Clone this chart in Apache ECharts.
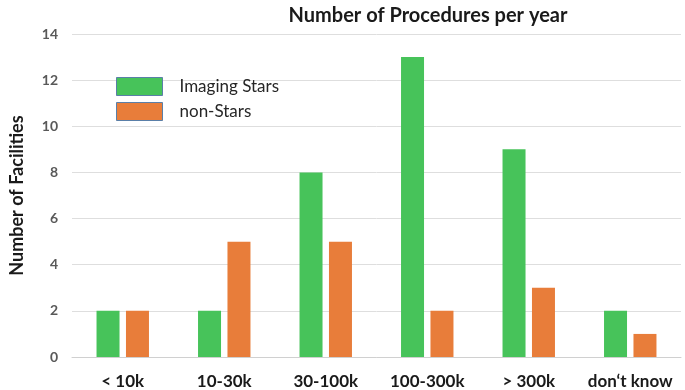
<!DOCTYPE html>
<html>
<head>
<meta charset="utf-8">
<script src="https://cdn.jsdelivr.net/npm/echarts@6/dist/echarts.min.js"></script>
<style>
  html, body { margin: 0; padding: 0; background: #fff; }
  #chart { width: 685px; height: 390px; }
</style>
</head>
<body>
<div id="chart"></div>
<script>
// categorie e valori
var categorie = ['< 10k', '10-30k', '30-100k', '100-300k', '> 300k', 'don\u2018t know'];
var imagingStars = [2, 2, 8, 13, 9, 2];
var nonStars = [2, 5, 5, 2, 3, 1];
var tickY = [0, 2, 4, 6, 8, 10, 12, 14];

var font = 'Lato, "Open Sans", sans-serif';

var grafico = echarts.init(document.getElementById('chart'));
var option = {
  animation: false,
  title: {
    text: 'Number of Procedures per year',
    left: 423,
    textAlign: 'center',
    top: 1,
    textStyle: { fontFamily: font, fontWeight: 'bold', fontSize: 20, color: '#1a1a1a' }
  },
  legend: {
    orient: 'vertical',
    left: 116,
    top: 77,
    padding: 0,
    icon: 'rect',
    itemWidth: 46,
    itemHeight: 18,
    itemGap: 6,
    itemStyle: { borderColor: '#5a7fa8', borderWidth: 1 },
    textStyle: { fontFamily: font, fontSize: 17, color: '#262626', padding: [0, 0, 0, 12] },
    data: ['Imaging Stars', 'non-Stars']
  },
  grid: { left: 66, right: 4, top: 34, bottom: 33 },
  xAxis: {
    type: 'category',
    data: categorie,
    axisTick: { show: false },
    axisLine: { lineStyle: { color: '#d0d0d0' } },
    axisLabel: { interval: 0, fontFamily: font, fontWeight: 'bold', fontSize: 17, color: '#1a1a1a', margin: 16 }
  },
  yAxis: {
    type: 'value',
    min: tickY[0],
    max: tickY[tickY.length - 1],
    interval: 2,
    name: 'Number of Facilities',
    nameLocation: 'middle',
    nameGap: 46,
    nameTextStyle: { fontFamily: font, fontWeight: 'bold', fontSize: 18, color: '#1a1a1a' },
    axisLabel: { fontFamily: font, fontWeight: 'bold', fontSize: 14, color: '#595959', margin: 14 },
    splitLine: { lineStyle: { color: '#dedede' } }
  },
  series: [
    {
      name: 'Imaging Stars',
      type: 'bar',
      data: imagingStars,
      barWidth: 23,
      barGap: '28%',
      itemStyle: { color: '#47c35a' }
    },
    {
      name: 'non-Stars',
      type: 'bar',
      data: nonStars,
      barWidth: 23,
      itemStyle: { color: '#e87d3a' }
    }
  ]
};
grafico.setOption(option);
</script>
</body>
</html>
